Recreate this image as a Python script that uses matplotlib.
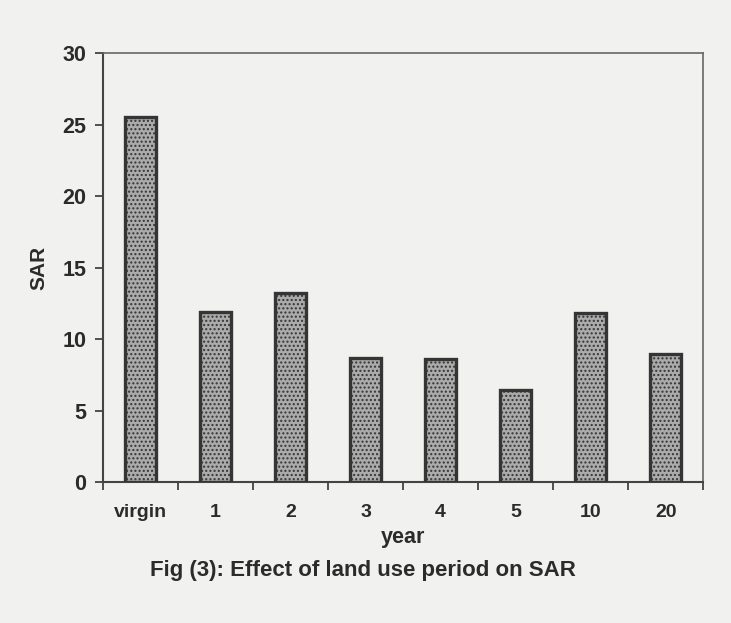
import matplotlib
matplotlib.use("Agg")
import matplotlib.pyplot as plt
import numpy as np

plt.rcParams.update({
    "font.family": "Liberation Sans",
    "font.weight": "bold",
    "hatch.color": "#656565",
    "hatch.linewidth": 1.0,
})

# data
years = ["virgin", "1", "2", "3", "4", "5", "10", "20"]
sar = [25.5, 11.9, 13.2, 8.7, 8.6, 6.4, 11.8, 8.95]

PAPER = "#f1f1ef"
INK = "#2b2b2b"

fig = plt.figure(figsize=(7.31, 6.23), dpi=100, facecolor=PAPER)
ax = fig.add_axes([0.141, 0.2263, 0.821, 0.6886], facecolor=PAPER)

x = np.arange(len(years))
ax.bar(x, sar, width=0.42, color="#ababab", edgecolor="#353535",
       linewidth=2.4, hatch="....", zorder=3)

ax.set_xlim(-0.5, len(years) - 0.5)
ax.set_ylim(0, 30)
ax.set_yticks(range(0, 31, 5))

# x ticks sit between categories, labels under the bars
ax.set_xticks(x)
ax.set_xticklabels(years, fontsize=14, fontweight="bold", color=INK)
ax.tick_params(axis="x", which="major", length=0, pad=16)
ax.set_xticks(np.arange(-0.5, len(years), 1.0), minor=True)
ax.tick_params(axis="x", which="minor", length=6, width=1.3,
               direction="out", color="#444444")
ax.tick_params(axis="y", length=6, width=1.3, direction="out",
               color="#444444", labelsize=15.5, labelcolor=INK, pad=6)
for lbl in ax.get_yticklabels():
    lbl.set_fontweight("bold")

for side in ["left", "bottom"]:
    ax.spines[side].set_color("#444444")
    ax.spines[side].set_linewidth(1.5)
for side in ["top", "right"]:
    ax.spines[side].set_color("#666666")
    ax.spines[side].set_linewidth(1.2)

ax.set_ylabel("SAR", fontsize=15, fontweight="bold", color=INK, labelpad=10)
ax.set_xlabel("year", fontsize=15.5, fontweight="bold", color=INK, labelpad=4)

fig.text(0.497, 0.085, "Fig (3): Effect of land use period on SAR",
         ha="center", va="center", fontsize=16, fontweight="bold", color=INK)

fig.savefig("out.png", dpi=100, facecolor=PAPER)
